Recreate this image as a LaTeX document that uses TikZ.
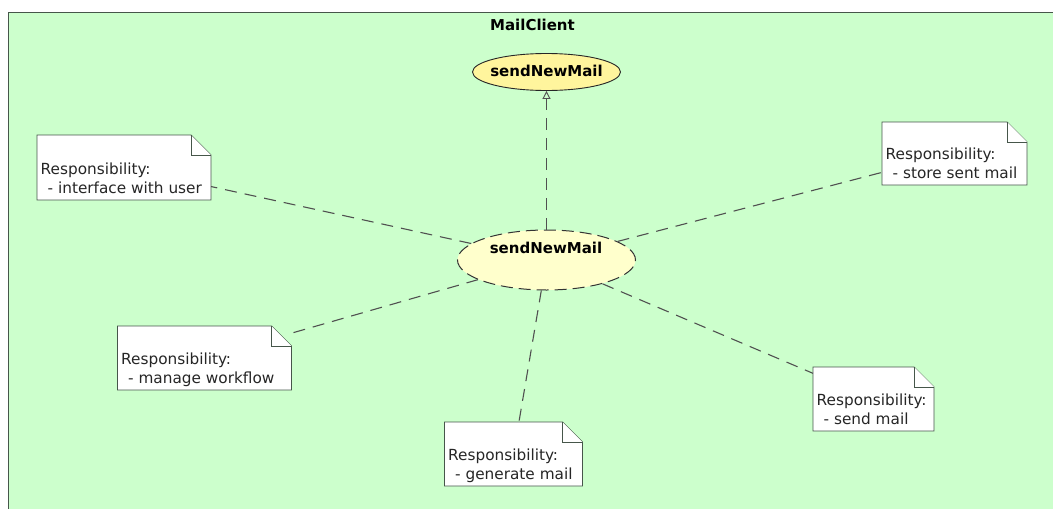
\documentclass[tikz,border=0pt]{standalone}
\usepackage{fontspec}
\setmainfont{DejaVu Sans}
\usetikzlibrary{arrows.meta,shapes.geometric}

\definecolor{pkgfill}{HTML}{CCFFCC}
\definecolor{pkgline}{HTML}{46564A}
\definecolor{ucfill}{HTML}{FFF59D}
\definecolor{collabfill}{HTML}{FFFFCC}
\definecolor{linkgray}{HTML}{505050}

% Responsibility note: name, north-west corner, width, height, duty
\newcommand\respnote[5]{%
  \node[notebox, minimum width=#3pt, minimum height=#4pt, anchor=north west] (#1) at (#2) {};
  \filldraw[noteline] (#1.south west) -- (#1.north west) -- ([xshift=-20pt]#1.north east)
     -- ([yshift=-20pt]#1.north east) -- (#1.south east) -- cycle;
  \draw[noteline] ([xshift=-20pt]#1.north east) |- ([yshift=-20pt]#1.north east);
  \node[notetext, anchor=base west] (#1-text) at ([shift={(3.5pt,6.5pt)}]#1.south west)
     {Responsibility:\\\hspace*{7pt}- #5};
}

\begin{document}
\begin{tikzpicture}[x=1pt,y=-1pt,
  basefont/.style={font=\fontsize{15.3pt}{18.7pt}\selectfont},
  boldfont/.style={font=\fontsize{15pt}{18.7pt}\selectfont\bfseries},
  usecase/.style={ellipse, draw=black!85, fill=ucfill, line width=0.9pt,
    minimum width=148pt, minimum height=37pt, inner sep=0pt},
  collab/.style={ellipse, draw=black!80, fill=collabfill, line width=1pt,
    dash pattern=on 12pt off 6pt, minimum width=178pt, minimum height=60pt, inner sep=0pt},
  notebox/.style={rectangle, draw=none, inner sep=0pt, outer sep=0pt},
  noteline/.style={draw=pkgline, fill=white, line width=0.9pt},
  notetext/.style={basefont, text=black!85, align=left, inner sep=0pt},
  dashline/.style={draw=linkgray, line width=1.1pt, dash pattern=on 12pt off 8pt},
  realize/.style={dashline, -{Triangle[open, length=8pt, width=8pt, line width=0.9pt]}},
]
\clip (0,0) rectangle (1053,509);
\fill[white] (0,0) rectangle (1053,509);

% package frame
\draw[draw=pkgline, fill=pkgfill, line width=1.7pt] (8.5,12.5) rectangle (1070,530);
\node[boldfont, inner sep=0pt] (title) at (532.5,25) {MailClient};

% use case and its collaboration
\node[usecase] (uc) at (546.5,72) {};
\node[boldfont, inner sep=0pt] (uc-text) at (546.5,70.5) {sendNewMail};
\node[collab] (cu) at (546.5,260) {};
\node[boldfont, inner sep=0pt] (cu-text) at (546,248) {sendNewMail};

\draw[realize] (cu) -- (uc);

% notes
\respnote{n1}{37,135}{174}{65}{interface with user}
\respnote{n2}{882,122}{145}{63}{store sent mail}
\respnote{n3}{117.5,326}{174}{64}{manage workflow}
\respnote{n4}{444.5,422}{138}{64}{generate mail}
\respnote{n5}{813,367}{121}{64}{send mail}

\draw[dashline] (cu) -- (n1);
\draw[dashline] (cu) -- (n2);
\draw[dashline] (cu) -- (n3);
\draw[dashline] (cu) -- (n4);
\draw[dashline] (cu) -- (n5);
\end{tikzpicture}
\end{document}
